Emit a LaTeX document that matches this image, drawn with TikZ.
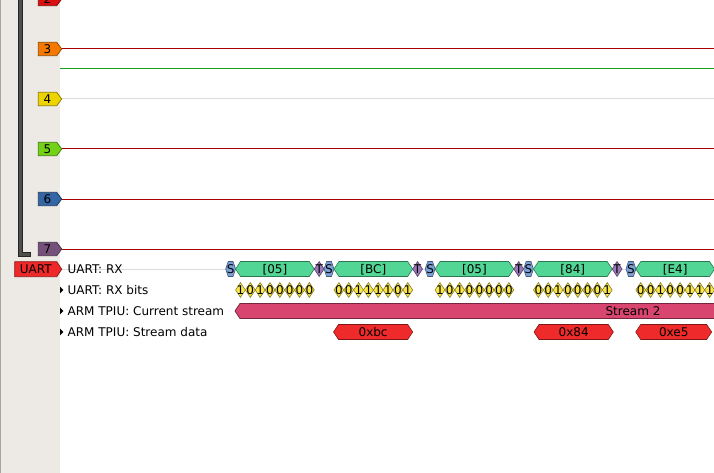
\documentclass[tikz,border=0pt]{standalone}
\usepackage{fontspec}
\setmainfont{DejaVu Sans}

\definecolor{panelbg}{HTML}{EDEAE6}
\definecolor{panelline}{HTML}{A8A49E}
\definecolor{bargray}{HTML}{4D504D}
\definecolor{lowred}{HTML}{A80000}
\definecolor{highgreen}{HTML}{18A018}
\definecolor{basegray}{HTML}{DCDCDC}
\definecolor{chtwo}{HTML}{D81010}
\definecolor{chthree}{HTML}{F57900}
\definecolor{chfour}{HTML}{EDD400}
\definecolor{chfive}{HTML}{73D216}
\definecolor{chsix}{HTML}{3465A4}
\definecolor{chseven}{HTML}{75507B}
\definecolor{uartred}{HTML}{EF2929}
\definecolor{startblue}{HTML}{7BA0D6}
\definecolor{datagreen}{HTML}{52D695}
\definecolor{stoppurple}{HTML}{9A78BA}
\definecolor{bityellow}{HTML}{F8E64C}
\definecolor{streampink}{HTML}{D8466F}
\definecolor{sdatared}{HTML}{EE2A2A}

\tikzset{
	lbl/.style={inner sep=0pt, text height=8.7pt, text depth=0pt, font=\fontsize{12}{14}\selectfont},
}

% #1 name, #2 colour, #3 start, #4 end, #5 row, #6 text
\newcommand{\anno}[6]{%
	\pgfmathsetmacro{\capw}{min((#4-#3)/4,5)}%
	\pgfmathsetmacro{\xa}{#3}%
	\pgfmathsetmacro{\xb}{#4}%
	\filldraw[fill=#2, draw=#2!55!black, line width=0.6pt, line join=round] (\xa,#5) -- ({\xa+\capw},#5-7.5) -- ({\xb-\capw},#5-7.5) -- (\xb,#5) -- ({\xb-\capw},#5+7.5) -- ({\xa+\capw},#5+7.5) -- cycle;
	\node[lbl] (#1) at ({(\xa+\xb)/2},#5) {#6};
}

% #1 name, #2 row, #3 colour, #4 text
\newcommand{\chlabel}[4]{%
	\filldraw[fill=#3, draw=#3!60!black, line width=0.8pt] (38.3,#2-6.7) -- (56.7,#2-6.7) -- (61.7,#2) -- (56.7,#2+6.7) -- (38.3,#2+6.7) -- cycle;
	\node[lbl] (#1) at (47.5,#2) {#4};
}

\begin{document}
\begin{tikzpicture}[x=1pt,y=-1pt]
	\useasboundingbox (0,0) rectangle (714,473);
	\clip (0,0) rectangle (714,473);

	% side panel
	\fill[panelbg] (0,0) rectangle (60,473);
	\draw[panelline, line width=1.3pt] (0.65,0) -- (0.65,473);
	\filldraw[fill=bargray, draw=black!85, line width=0.6pt] (18,-5) -- (22.5,-5) -- (22.5,252) -- (30.5,252) -- (30.5,256.5) -- (18,256.5) -- cycle;

	% traces
	\draw[basegray, line width=1pt] (60,99) -- (714,99);
	\draw[basegray, line width=1pt] (61,269) -- (714,269);
	\draw[highgreen, line width=1pt] (60,69) -- (714,69);
	\foreach \y in {49,149,199,249}
		\draw[lowred, line width=1pt] (60,\y) -- (714,\y);

	\foreach \n/\y/\c in {2/-1/chtwo, 3/49/chthree, 4/99/chfour, 5/149/chfive, 6/199/chsix, 7/249/chseven}{
		\chlabel{ch\n}{\y}{\c}{\n}
	}

	\filldraw[fill=uartred, draw=uartred!60!black, line width=0.8pt] (14.7,261.7) -- (56.7,261.7) -- (61.7,269.2) -- (56.7,276.7) -- (14.7,276.7) -- cycle;
	\node[lbl] (uart) at (35.7,269.2) {UART};

	% row titles
	\node[lbl, anchor=west] (rxlbl) at (67.5,269) {UART: RX};
	\node[lbl, anchor=west] (bitslbl) at (67.5,290) {UART: RX bits};
	\node[lbl, anchor=west] (streamlbl) at (67.5,311) {ARM TPIU: Current stream};
	\node[lbl, anchor=west] (sdatalbl) at (67.5,332) {ARM TPIU: Stream data};
	\foreach \y in {290,311,332}
		\fill (60,\y-3.3) -- (63.3,\y) -- (60,\y+3.3) -- cycle;

	% uart frames
	\foreach \f/\byte/\bits [count=\k] in {225.7/05/{1,0,1,0,0,0,0,0}, 324.1/BC/{0,0,1,1,1,1,0,1}, 425.2/05/{1,0,1,0,0,0,0,0}, 523.6/84/{0,0,1,0,0,0,0,1}, 626/E4/{0,0,1,0,0,1,1,1}}{
		\anno{st\k}{startblue}{\f}{\f+9.84}{269}{S}
		\anno{d\k}{datagreen}{\f+9.84}{\f+88.56}{269}{[\byte]}
		\ifnum\k<5
			\anno{sp\k}{stoppurple}{\f+88.56}{\f+98.4}{269}{T}
		\fi
		\foreach \v [count=\i from 0] in \bits {
			\anno{b\k-\i}{bityellow}{\f+9.84*(\i+1)}{\f+9.84*(\i+2)}{290}{\v}
		}
	}

	% current stream
	\filldraw[fill=streampink, draw=streampink!55!black, line width=0.8pt] (235,311) -- (240,303.5) -- (730,303.5) -- (730,318.5) -- (240,318.5) -- cycle;
	\node[lbl] (stream) at (633,311) {Stream 2};

	% stream data
	\anno{sd1}{sdatared}{333.5}{412.7}{332}{0xbc}
	\anno{sd2}{sdatared}{534}{613.3}{332}{0x84}
	\anno{sd3}{sdatared}{635.7}{711.7}{332}{0xe5}
\end{tikzpicture}
\end{document}
